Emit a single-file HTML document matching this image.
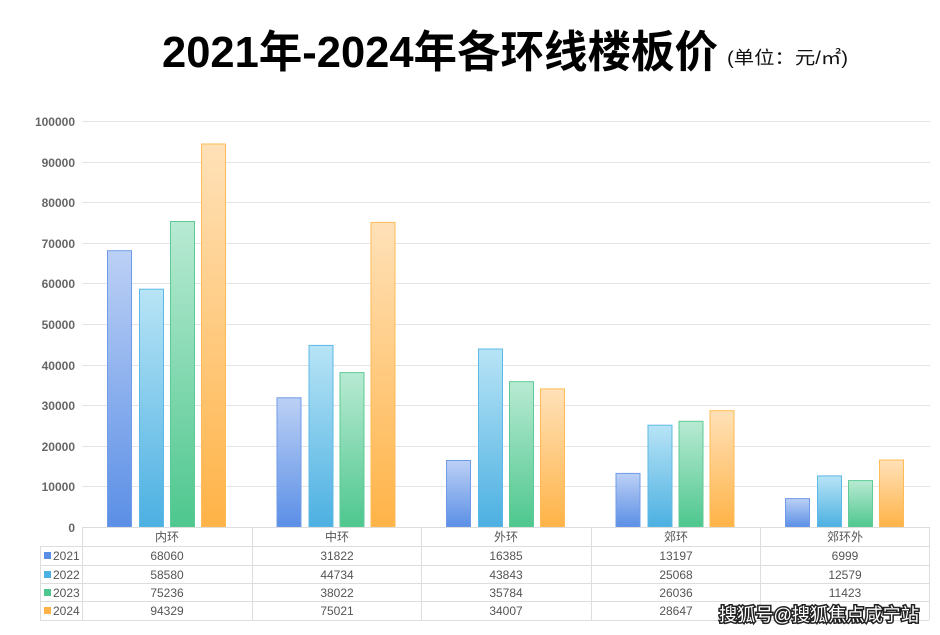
<!DOCTYPE html>
<html><head><meta charset="utf-8"><style>
body{margin:0;background:#fff;width:940px;height:635px;overflow:hidden}
svg{display:block}
text{font-family:"Liberation Sans","Noto Sans CJK SC",sans-serif}
</style></head><body>
<svg width="940" height="635" viewBox="0 0 940 635">
<defs>
<linearGradient id="g1" x1="0" y1="0" x2="0" y2="1"><stop offset="0" stop-color="#bcd0f5"/><stop offset="1" stop-color="#5b8fe6"/></linearGradient>
<linearGradient id="g2" x1="0" y1="0" x2="0" y2="1"><stop offset="0" stop-color="#b8e4f6"/><stop offset="1" stop-color="#4cb0e2"/></linearGradient>
<linearGradient id="g3" x1="0" y1="0" x2="0" y2="1"><stop offset="0" stop-color="#b8ead3"/><stop offset="1" stop-color="#4ec78e"/></linearGradient>
<linearGradient id="g4" x1="0" y1="0" x2="0" y2="1"><stop offset="0" stop-color="#ffe1b8"/><stop offset="1" stop-color="#ffb347"/></linearGradient>
</defs>
<text x="162" y="67" font-size="44" font-weight="bold" fill="#000" textLength="556" lengthAdjust="spacingAndGlyphs">2021年-2024年各环线楼板价</text>
<text x="727" y="64" font-size="18" fill="#111" textLength="121" lengthAdjust="spacingAndGlyphs">(单位：元/㎡)</text>
<g stroke="#e4e4e4" stroke-width="1">
<line x1="82" y1="121.5" x2="930" y2="121.5"/><line x1="82" y1="162.5" x2="930" y2="162.5"/><line x1="82" y1="202.5" x2="930" y2="202.5"/><line x1="82" y1="243.5" x2="930" y2="243.5"/><line x1="82" y1="283.5" x2="930" y2="283.5"/><line x1="82" y1="324.5" x2="930" y2="324.5"/><line x1="82" y1="365.5" x2="930" y2="365.5"/><line x1="82" y1="405.5" x2="930" y2="405.5"/><line x1="82" y1="446.5" x2="930" y2="446.5"/><line x1="82" y1="486.5" x2="930" y2="486.5"/>
</g>
<g font-size="12" fill="#666" text-anchor="end" font-weight="bold">
<text x="75" y="126">100000</text><text x="75" y="167">90000</text><text x="75" y="207">80000</text><text x="75" y="248">70000</text><text x="75" y="288">60000</text><text x="75" y="329">50000</text><text x="75" y="370">40000</text><text x="75" y="410">30000</text><text x="75" y="451">20000</text><text x="75" y="491">10000</text><text x="75" y="532">0</text>
</g>
<g stroke-width="1">
<g fill="url(#g1)" stroke="#6f9be8">
<rect x="107.5" y="250.7" width="24" height="276.3"/><rect x="277" y="397.8" width="24" height="129.2"/><rect x="446.5" y="460.5" width="24" height="66.5"/><rect x="616" y="473.4" width="24" height="53.6"/><rect x="785.5" y="498.6" width="24" height="28.4"/>
</g>
<g fill="url(#g2)" stroke="#5cb8e6">
<rect x="139.5" y="289.2" width="24" height="237.8"/><rect x="309" y="345.4" width="24" height="181.6"/><rect x="478.5" y="349" width="24" height="178"/><rect x="648" y="425.2" width="24" height="101.8"/><rect x="817.5" y="475.9" width="24" height="51.1"/>
</g>
<g fill="url(#g3)" stroke="#5ccb95">
<rect x="170.5" y="221.5" width="24" height="305.5"/><rect x="340" y="372.6" width="24" height="154.4"/><rect x="509.5" y="381.7" width="24" height="145.3"/><rect x="679" y="421.3" width="24" height="105.7"/><rect x="848.5" y="480.6" width="24" height="46.4"/>
</g>
<g fill="url(#g4)" stroke="#ffbb55">
<rect x="201.5" y="144" width="24" height="383"/><rect x="371" y="222.4" width="24" height="304.6"/><rect x="540.5" y="388.9" width="24" height="138.1"/><rect x="710" y="410.7" width="24" height="116.3"/><rect x="879.5" y="460" width="24" height="67"/>
</g>
</g>
<g stroke="#ddd" stroke-width="1" fill="none">
<line x1="82" y1="527.5" x2="929" y2="527.5"/>
<line x1="40" y1="546.5" x2="929" y2="546.5"/>
<line x1="40" y1="565.5" x2="929" y2="565.5"/>
<line x1="40" y1="583.5" x2="929" y2="583.5"/>
<line x1="40" y1="601.5" x2="929" y2="601.5"/>
<line x1="40" y1="620.5" x2="929" y2="620.5"/>
<line x1="40.5" y1="546" x2="40.5" y2="620"/>
<line x1="82.5" y1="527" x2="82.5" y2="620"/>
<line x1="252.5" y1="527" x2="252.5" y2="620"/>
<line x1="421.5" y1="527" x2="421.5" y2="620"/>
<line x1="591.5" y1="527" x2="591.5" y2="620"/>
<line x1="760.5" y1="527" x2="760.5" y2="620"/>
<line x1="929.5" y1="527" x2="929.5" y2="620"/>
</g>
<g font-size="12" fill="#555" text-anchor="middle">
<text x="167" y="541">内环</text><text x="337" y="541">中环</text><text x="506" y="541">外环</text><text x="676" y="541">郊环</text><text x="845" y="541">郊环外</text>
<text x="167" y="560">68060</text><text x="337" y="560">31822</text><text x="506" y="560">16385</text><text x="676" y="560">13197</text><text x="845" y="560">6999</text>
<text x="167" y="579">58580</text><text x="337" y="579">44734</text><text x="506" y="579">43843</text><text x="676" y="579">25068</text><text x="845" y="579">12579</text>
<text x="167" y="597">75236</text><text x="337" y="597">38022</text><text x="506" y="597">35784</text><text x="676" y="597">26036</text><text x="845" y="597">11423</text>
<text x="167" y="615">94329</text><text x="337" y="615">75021</text><text x="506" y="615">34007</text><text x="676" y="615">28647</text>
</g>
<rect x="44" y="552" width="7" height="7" fill="#5b8fe6"/>
<rect x="44" y="571" width="7" height="7" fill="#4cb0e2"/>
<rect x="44" y="589" width="7" height="7" fill="#4ec78e"/>
<rect x="44" y="607" width="7" height="7" fill="#ffb347"/>
<g font-size="12" fill="#555">
<text x="53" y="560">2021</text><text x="53" y="579">2022</text><text x="53" y="597">2023</text><text x="53" y="615">2024</text>
</g>
<text x="719" y="621" font-size="18" fill="#fff" stroke="#222" stroke-width="3" paint-order="stroke" textLength="200" lengthAdjust="spacingAndGlyphs">搜狐号@搜狐焦点咸宁站</text>
</svg>
</body></html>
